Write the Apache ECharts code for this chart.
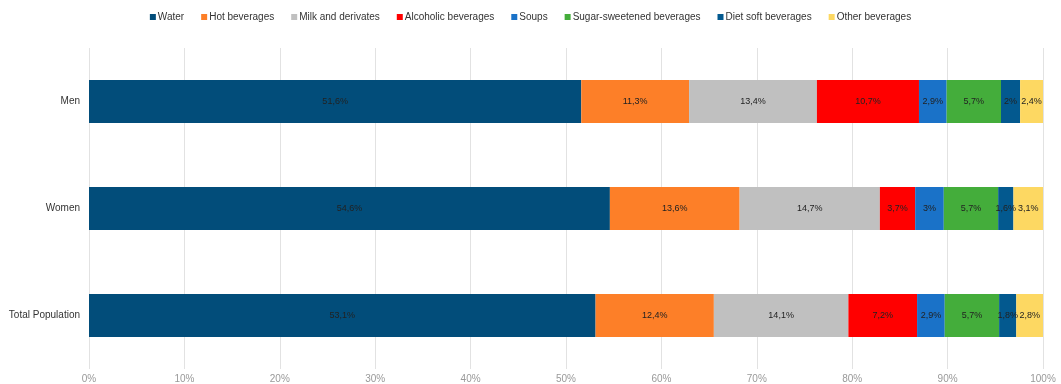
<!DOCTYPE html>
<html>
<head>
<meta charset="utf-8">
<script src="https://cdn.jsdelivr.net/npm/echarts@6/dist/echarts.min.js"></script>
<style>
  html, body { margin: 0; padding: 0; background: #fff; }
  #chart { width: 1061px; height: 384px; }
</style>
</head>
<body>
<div id="chart"></div>
<script>
// Share of daily beverage intake by group (%)
const groups = ['Men', 'Women', 'Total Population'];
const beverageTypes = ['Water', 'Hot beverages', 'Milk and derivates', 'Alcoholic beverages', 'Soups', 'Sugar-sweetened beverages', 'Diet soft beverages', 'Other beverages'];
const water = [51.6, 54.6, 53.1];
const hotBeverages = [11.3, 13.6, 12.4];
const milk = [13.4, 14.7, 14.1];
const alcoholic = [10.7, 3.7, 7.2];
const soups = [2.9, 3, 2.9];
const sugarSweetened = [5.7, 5.7, 5.7];
const dietSoft = [2, 1.6, 1.8];
const other = [2.4, 3.1, 2.8];
const xTicks = [0, 10, 20, 30, 40, 50, 60, 70, 80, 90, 100];

const seriesValues = [water, hotBeverages, milk, alcoholic, soups, sugarSweetened, dietSoft, other];
const colors = ['#024d7a', '#fd7f28', '#c0c0c0', '#ff0000', '#1a72c8', '#44ad3b', '#03598f', '#fdd862'];

const fmt = v => String(v).replace('.', ',') + '%';

const chart = echarts.init(document.getElementById('chart'), null, { renderer: 'canvas' });
chart.setOption({
  animation: false,
  color: colors,
  textStyle: { fontFamily: 'Liberation Sans, Arial, sans-serif' },
  legend: {
    top: 7,
    left: 'center',
    icon: 'rect',
    itemWidth: 6,
    itemHeight: 6,
    itemGap: 17,
    textStyle: { fontSize: 10, color: '#333', padding: [0, 0, 0, -3] },
    data: beverageTypes
  },
  grid: { left: 89, right: 18, top: 48, bottom: 15, containLabel: false },
  xAxis: {
    type: 'value',
    min: 0,
    max: 100,
    interval: 10,
    axisLine: { show: false },
    axisTick: { show: false },
    splitLine: { lineStyle: { color: '#e2e2e2', width: 1 } },
    axisLabel: {
      fontSize: 10,
      color: '#999',
      margin: 5,
      formatter: v => (xTicks.includes(v) ? v + '%' : '')
    }
  },
  yAxis: {
    type: 'category',
    inverse: true,
    data: groups,
    axisLine: { show: false },
    axisTick: { show: false },
    axisLabel: { fontSize: 10, color: '#333', margin: 9 }
  },
  series: beverageTypes.map((name, i) => ({
    name,
    type: 'bar',
    stack: 'total',
    barWidth: 43,
    data: seriesValues[i],
    itemStyle: { color: colors[i] },
    label: {
      show: true,
      position: 'inside',
      fontSize: 9,
      color: '#222',
      formatter: p => fmt(p.value)
    }
  }))
});
</script>
</body>
</html>
